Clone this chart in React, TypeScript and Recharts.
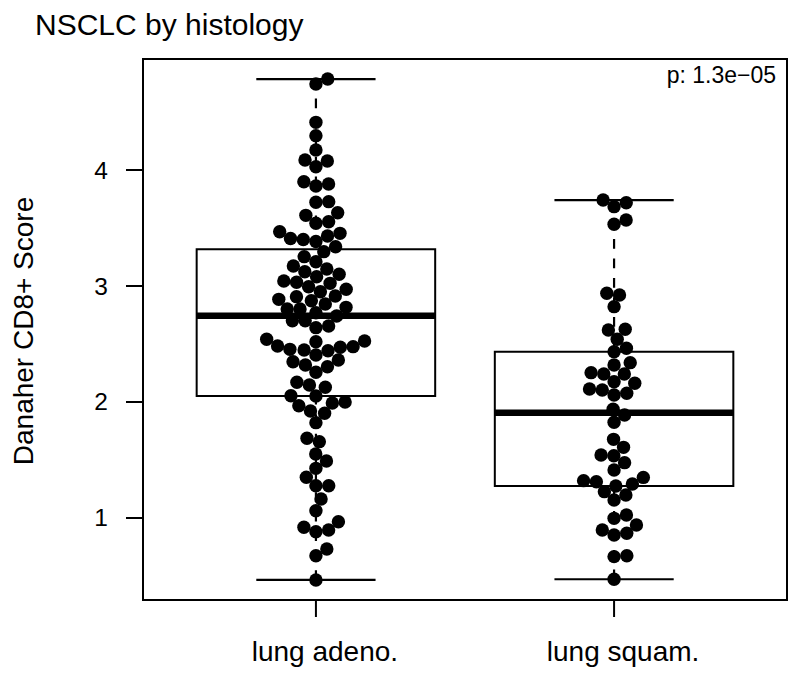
import React from 'react';
import { ComposedChart, XAxis, YAxis, Scatter, ReferenceArea, ReferenceLine } from 'recharts';

const categories = ['lung adeno.', 'lung squam.'];

const adenoValues = [
  4.784, 4.741, 4.411, 4.296, 4.172, 4.086, 4.078, 4.028, 3.899, 3.862, 3.879, 3.727, 3.722, 3.632,
  3.609, 3.541, 3.554, 3.468, 3.454, 3.431, 3.384, 3.401, 3.409, 3.339, 3.296, 3.253, 3.209, 3.172,
  3.123, 3.147, 3.101, 3.08, 3.043, 3.023, 3.032, 2.994, 2.972, 2.951, 2.908, 2.914, 2.845, 2.873,
  2.885, 2.802, 2.816, 2.802, 2.77, 2.741, 2.701, 2.701, 2.655, 2.641, 2.541, 2.526, 2.483, 2.52,
  2.477, 2.472, 2.454, 2.448, 2.442, 2.405, 2.347, 2.362, 2.319, 2.304, 2.256, 2.17, 2.127, 2.147,
  2.054, 2.052, 1.991, 2.0, 1.967, 1.922, 1.903, 1.822, 1.687, 1.658, 1.552, 1.491, 1.428, 1.351,
  1.278, 1.278, 1.164, 1.063, 0.968, 0.92, 0.882, 0.897, 0.733, 0.675, 0.466,
];

const squamValues = [
  3.741, 3.684, 3.718, 3.532, 3.569, 2.937, 2.922, 2.822, 2.621, 2.627, 2.541, 2.434, 2.463, 2.319,
  2.339, 2.241, 2.241, 2.253, 2.175, 2.161, 2.112, 2.103, 2.06, 2.075, 1.937, 1.888, 1.825, 1.678,
  1.609, 1.543, 1.537, 1.477, 1.414, 1.322, 1.313, 1.35, 1.293, 1.276, 1.227, 1.198, 1.155, 0.997,
  1.026, 0.94, 0.897, 0.853, 0.868, 0.667, 0.675, 0.472,
];

// [lower whisker, Q1, median, Q3, upper whisker]
const adenoStats = [0.466, 2.052, 2.744, 3.316, 4.784];
const squamStats = [0.472, 1.276, 1.908, 2.434, 3.741];

const yTicks = [1, 2, 3, 4];
const xTicks = [1, 2];
const titleText = 'NSCLC by histology';
const yLabelText = 'Danaher CD8+ Score';
const pText = 'p: 1.3e\u221205';

// layout
const W = 800;
const H = 681;
const PLOT_LEFT = 143;
const PLOT_RIGHT = 787;
const PLOT_TOP = 59;
const PLOT_BOTTOM = 600;
const X_DOMAIN: [number, number] = [0.42, 2.58];
const Y_DOMAIN: [number, number] = [0.293, 4.957];
const Y_AXIS_W = 60;
const X_AXIS_H = 70;
const PX_PER_X = (PLOT_RIGHT - PLOT_LEFT) / (X_DOMAIN[1] - X_DOMAIN[0]);
const PX_PER_Y = (PLOT_BOTTOM - PLOT_TOP) / (Y_DOMAIN[1] - Y_DOMAIN[0]);
const SPACING = 12.8;
const DOT_R = 6.7;
const FONT = '"Liberation Sans", Arial, Helvetica, sans-serif';

// beeswarm ("swarm" method, ascending priority)
function swarm(values: number[], center: number) {
  const order = values.map((_, i) => i).sort((a, b) => values[a] - values[b]);
  const placed: { y: number; x: number }[] = [];
  const out: { x: number; y: number }[] = new Array(values.length);
  for (const i of order) {
    const y = values[i] * PX_PER_Y;
    const close = placed.filter((p) => Math.abs(p.y - y) < SPACING);
    let best = 0;
    if (close.length) {
      const offs = close.map((p) => Math.sqrt(SPACING * SPACING - (p.y - y) * (p.y - y)));
      const cands = [0, ...close.map((p, k) => p.x + offs[k]), ...close.map((p, k) => p.x - offs[k])];
      let bestAbs = Infinity;
      for (const c of cands) {
        const bad = close.some((p, k) => Math.abs(p.x - c) < offs[k] - 1e-6);
        if (!bad && Math.abs(c) < bestAbs) {
          bestAbs = Math.abs(c);
          best = c;
        }
      }
    }
    placed.push({ y, x: best });
    out[i] = { x: center + best / PX_PER_X, y: values[i] };
  }
  return out;
}

const adenoPoints = swarm(adenoValues, 1);
const squamPoints = swarm(squamValues, 2);

const Dot = (props: any) => <circle cx={props.cx} cy={props.cy} r={DOT_R} fill="#000" />;

const YTick = (props: any) => (
  <text x={108} y={props.y + 8.5} textAnchor="end" fontSize={24.5} fontFamily={FONT} fill="#000">
    {props.payload.value}
  </text>
);

const XTick = (props: any) => (
  <text x={props.x + 9} y={661} textAnchor="middle" fontSize={28} fontFamily={FONT} fill="#000">
    {categories[props.payload.value - 1]}
  </text>
);

function boxElements(stats: number[], c: number, key: string) {
  const [lo, q1, med, q3, hi] = stats;
  const hw = 0.4;
  const cw = 0.2;
  return [
    <ReferenceArea key={key + 'box'} x1={c - hw} x2={c + hw} y1={q1} y2={q3} fill="none" fillOpacity={0} stroke="#000" strokeWidth={2} strokeOpacity={1} />,
    <ReferenceLine key={key + 'wu'} segment={[{ x: c, y: hi }, { x: c, y: q3 }]} stroke="#000" strokeWidth={2.2} strokeDasharray="9.75 9.75" />,
    <ReferenceLine key={key + 'wl'} segment={[{ x: c, y: lo }, { x: c, y: q1 }]} stroke="#000" strokeWidth={2.2} strokeDasharray="9.75 9.75" />,
    <ReferenceLine key={key + 'cu'} segment={[{ x: c - cw, y: hi }, { x: c + cw, y: hi }]} stroke="#000" strokeWidth={2.2} />,
    <ReferenceLine key={key + 'cl'} segment={[{ x: c - cw, y: lo }, { x: c + cw, y: lo }]} stroke="#000" strokeWidth={2.2} />,
    <ReferenceLine key={key + 'med'} segment={[{ x: c - hw, y: med }, { x: c + hw, y: med }]} stroke="#000" strokeWidth={6.5} />,
  ];
}

export default function App() {
  return (
    <div style={{ position: 'absolute', left: 0, top: 0, width: W, height: H, background: '#fff' }}>
      <ComposedChart
        width={W}
        height={H}
        margin={{
          top: PLOT_TOP,
          right: W - PLOT_RIGHT,
          bottom: H - PLOT_BOTTOM - X_AXIS_H,
          left: PLOT_LEFT - Y_AXIS_W,
        }}
      >
        <XAxis
          type="number"
          dataKey="x"
          domain={X_DOMAIN}
          ticks={xTicks}
          allowDataOverflow
          height={X_AXIS_H}
          axisLine={false}
          tickSize={17}
          tickLine={{ stroke: '#000', strokeWidth: 2 }}
          tick={<XTick />}
          interval={0}
        />
        <YAxis
          type="number"
          dataKey="y"
          domain={Y_DOMAIN}
          ticks={yTicks}
          allowDataOverflow
          width={Y_AXIS_W}
          axisLine={false}
          tickSize={17}
          tickLine={{ stroke: '#000', strokeWidth: 2 }}
          tick={<YTick />}
          interval={0}
        />
        <ReferenceArea x1={X_DOMAIN[0]} x2={X_DOMAIN[1]} y1={Y_DOMAIN[0]} y2={Y_DOMAIN[1]} fill="none" fillOpacity={0} stroke="#000" strokeWidth={2} strokeOpacity={1} />
        {boxElements(adenoStats, 1, 'a')}
        {boxElements(squamStats, 2, 's')}
        <Scatter data={adenoPoints} dataKey="y" shape={Dot} isAnimationActive={false} />
        <Scatter data={squamPoints} dataKey="y" shape={Dot} isAnimationActive={false} />
      </ComposedChart>
      <svg width={W} height={H} style={{ position: 'absolute', left: 0, top: 0, pointerEvents: 'none' }}>
        <text x={35} y={35} fontSize={30} fontFamily={FONT} fill="#000">
          {titleText}
        </text>
        <text
          x={33}
          y={331}
          transform="rotate(-90 33 331)"
          textAnchor="middle"
          fontSize={28}
          fontFamily={FONT}
          fill="#000"
        >
          {yLabelText}
        </text>
        <text x={776} y={83} textAnchor="end" fontSize={23} fontFamily={FONT} fill="#000">
          {pText}
        </text>
      </svg>
    </div>
  );
}
